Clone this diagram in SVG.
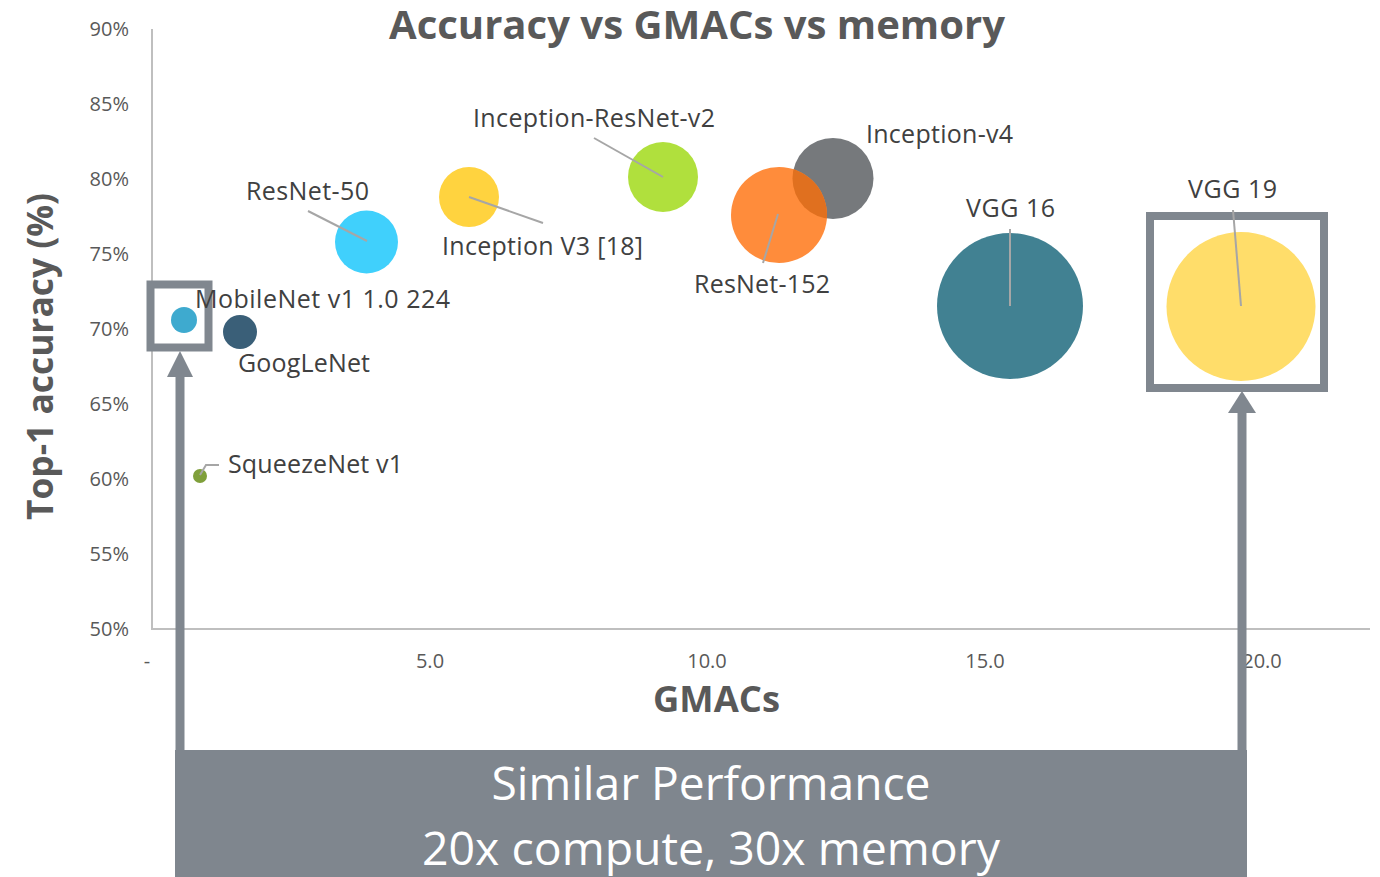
<svg xmlns="http://www.w3.org/2000/svg" width="1380" height="877" viewBox="0 0 1380 877">
<style>
text{font-family:"Open Sans","Liberation Sans",sans-serif}
.tick{font-size:20px;fill:#595959}
.lab{font-size:25px;fill:#404040}
.title{font-size:40px;font-weight:bold;fill:#595959}
.axt{font-size:35px;font-weight:bold;fill:#595959}
.axis{stroke:#BFBFBF;stroke-width:2;fill:none}
.lead{stroke:#A6A6A6;stroke-width:2;fill:none}
.hl{stroke:#80878F;stroke-width:8;fill:none}
.arr{fill:#80878F}
.big{font-size:46px;fill:#FFFFFF}
</style>
<defs>
<clipPath id="v4clip"><circle cx="833" cy="178.5" r="40.5"/></clipPath>
</defs>
<rect width="1380" height="877" fill="#FFFFFF"/>
<g id="axes">
<line class="axis" x1="152" y1="29" x2="152" y2="630"/>
<line class="axis" x1="151" y1="629" x2="1370" y2="629"/>
<g text-anchor="end">
<text class="tick" x="129" y="36">90%</text>
<text class="tick" x="129" y="111">85%</text>
<text class="tick" x="129" y="186">80%</text>
<text class="tick" x="129" y="261">75%</text>
<text class="tick" x="129" y="336">70%</text>
<text class="tick" x="129" y="411">65%</text>
<text class="tick" x="129" y="486">60%</text>
<text class="tick" x="129" y="561">55%</text>
<text class="tick" x="129" y="636">50%</text>
</g>
<g text-anchor="middle">
<text class="tick" x="147" y="668">-</text>
<text class="tick" x="430" y="668">5.0</text>
<text class="tick" x="707" y="668">10.0</text>
<text class="tick" x="985" y="668">15.0</text>
<text class="tick" x="1262" y="668">20.0</text>
</g>
<text class="title" x="389" y="39" textLength="616" lengthAdjust="spacingAndGlyphs">Accuracy vs GMACs vs memory</text>
<text class="axt" x="653" y="712" textLength="127" lengthAdjust="spacingAndGlyphs">GMACs</text>
<text class="axt" transform="translate(53,520) rotate(-90)" x="0" y="0" textLength="327" lengthAdjust="spacingAndGlyphs">Top-1 accuracy (%)</text>
</g>
<g id="node-inception-v4">
<circle cx="833" cy="178.5" r="40.5" fill="#76797C"/>
<text class="lab" x="866" y="143" textLength="147">Inception-v4</text>
</g>
<g id="node-resnet-152">
<circle cx="779" cy="215" r="48" fill="#FF8C3B"/>
<circle cx="779" cy="215" r="48" fill="#E0701F" clip-path="url(#v4clip)"/>
<text class="lab" x="694" y="293" textLength="136">ResNet-152</text>
</g>
<g id="node-mobilenet">
<circle cx="184" cy="320" r="13" fill="#3EAACF"/>
</g>
<g id="node-googlenet">
<circle cx="240" cy="332" r="17" fill="#3A5F78"/>
<text class="lab" x="238" y="372" textLength="132">GoogLeNet</text>
</g>
<g id="node-squeezenet">
<circle cx="200" cy="476" r="7" fill="#7F9F3A"/>
<text class="lab" x="228" y="473" textLength="175">SqueezeNet v1</text>
</g>
<g id="node-resnet-50">
<circle cx="366.5" cy="242" r="31.5" fill="#40D0FC"/>
<text class="lab" x="246" y="200" textLength="123">ResNet-50</text>
</g>
<g id="node-inception-v3">
<circle cx="469" cy="197" r="30" fill="#FFD33F"/>
<text class="lab" x="442" y="255" textLength="201">Inception V3 [18]</text>
</g>
<g id="node-inception-resnet-v2">
<circle cx="663" cy="177" r="35" fill="#B0E03D"/>
<text class="lab" x="473" y="127" textLength="242">Inception-ResNet-v2</text>
</g>
<g id="node-vgg16">
<circle cx="1010" cy="306" r="73" fill="#418192"/>
<text class="lab" x="966" y="217" textLength="89">VGG 16</text>
</g>
<g id="node-vgg19">
<circle cx="1241" cy="306.5" r="74.5" fill="#FFDD6A"/>
<text class="lab" x="1188" y="198" textLength="89">VGG 19</text>
</g>
<g id="node-highlight-left">
<rect class="hl" x="150.5" y="284.5" width="58" height="63"/>
</g>
<g id="node-highlight-right">
<rect class="hl" x="1150" y="216" width="174" height="172"/>
</g>
<g id="node-mobilenet-label">
<text class="lab" x="195" y="308" textLength="255">MobileNet v1 1.0 224</text>
</g>
<g id="connectors">
<line class="lead" x1="308" y1="211" x2="367" y2="241"/>
<line class="lead" x1="469" y1="197" x2="543" y2="223"/>
<line class="lead" x1="594" y1="138" x2="663" y2="177"/>
<line class="lead" x1="778" y1="214" x2="763" y2="263"/>
<line class="lead" x1="1010" y1="229" x2="1010" y2="306"/>
<line class="lead" x1="1233" y1="210" x2="1241" y2="306"/>
<polyline class="lead" points="200,475 206,465 219,465"/>
<rect class="arr" x="175.5" y="374" width="9" height="378"/>
<polygon class="arr" points="180,351 193,377 167,377"/>
<rect class="arr" x="1237.5" y="410" width="9" height="342"/>
<polygon class="arr" points="1242,391 1256,413 1228,413"/>
</g>
<g id="node-summary">
<rect x="175" y="750" width="1072" height="127" fill="#7F868E"/>
<text class="big" x="711" y="800" text-anchor="middle" textLength="439" lengthAdjust="spacingAndGlyphs">Similar Performance</text>
<text class="big" x="711" y="865" text-anchor="middle" textLength="578" lengthAdjust="spacingAndGlyphs">20x compute, 30x memory</text>
</g>
</svg>
